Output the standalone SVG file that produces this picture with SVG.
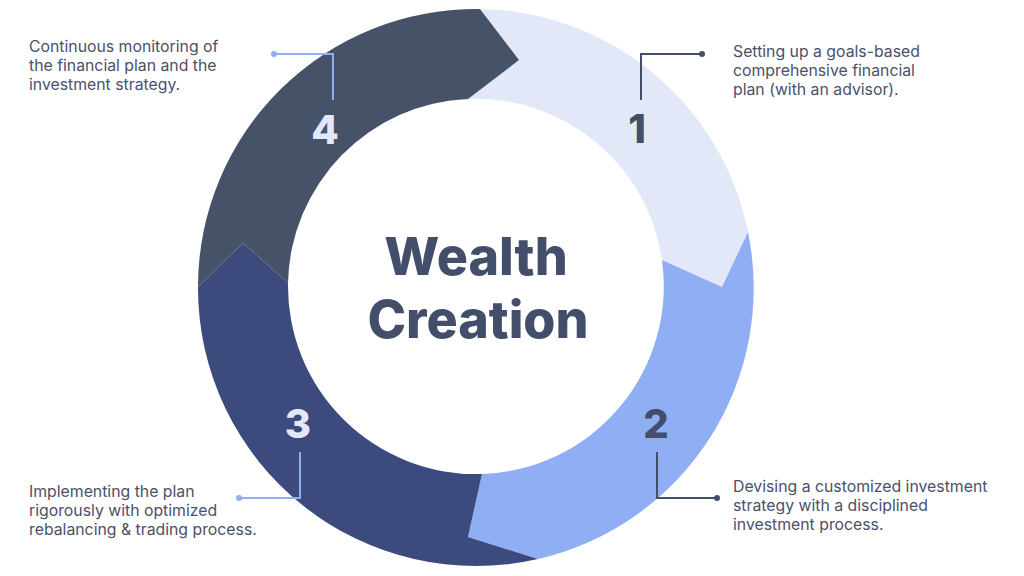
<svg xmlns="http://www.w3.org/2000/svg" width="1024" height="576" viewBox="0 0 1024 576">
<style>
.body{font-family:"Inter","Noto Sans","Liberation Sans",sans-serif;font-size:15.8px;fill:#4A5169}
.num{font-family:"Inter","Noto Sans","Liberation Sans",sans-serif;font-size:40px;font-weight:800;text-anchor:middle}
.title{font-family:"Inter","Noto Sans","Liberation Sans",sans-serif;font-size:52px;font-weight:800;fill:#434E6B;text-anchor:middle}
.cl{fill:none;stroke-width:2}
.light{stroke:#8FAEF4}
.dark{stroke:#434E6B}
</style>
<rect width="1024" height="576" fill="#FFFFFF"/>
<g id="segment-1">
<path d="M480,9 A278,278 0 0 1 748,232 L722,287 L662,260 A188,188 0 0 0 468,99 L519,60 Z" fill="#E2E8F7"/>
<text class="num" x="637" y="143" fill="#434E6B">1</text>
</g>
<g id="segment-2">
<path d="M748,232 A278,278 0 0 1 538,559 L468,537 L482,474 A188,188 0 0 0 662,260 L722,287 Z" fill="#8FAEF4"/>
<text class="num" x="656" y="438" fill="#434E6B">2</text>
</g>
<g id="segment-3">
<path d="M538,559 A278,278 0 0 1 198,287 L243,243 L288,283 A188,188 0 0 0 482,474 L468,537 Z" fill="#3C4A7E"/>
<text class="num" x="298" y="438" fill="#E2E8F7">3</text>
</g>
<g id="segment-4">
<path d="M198,287 A278,278 0 0 1 480,9 L519,60 L468,99 A188,188 0 0 0 288,283 L243,243 Z" fill="#465268"/>
<text class="num" x="325" y="144" fill="#E2E8F7">4</text>
</g>
<g id="center">
<text class="title" x="476" y="275">Wealth</text>
<text class="title" x="478" y="338">Creation</text>
</g>
<g id="connectors">
<polyline class="cl light" points="274,54 333,54 333,100"/>
<circle cx="274" cy="54" r="3" fill="#8FAEF4"/>
<polyline class="cl dark" points="702,54 641,54 641,100"/>
<circle cx="702" cy="54" r="3" fill="#434E6B"/>
<polyline class="cl light" points="300,452 300,498 239,498"/>
<circle cx="239" cy="498" r="3" fill="#8FAEF4"/>
<polyline class="cl dark" points="657,452 657,498 717,498"/>
<circle cx="717" cy="498" r="3" fill="#434E6B"/>
</g>
<g id="label-4">
<text class="body" x="29" y="52">Continuous monitoring of</text>
<text class="body" x="29" y="71">the financial plan and the</text>
<text class="body" x="29" y="90">investment strategy.</text>
</g>
<g id="label-1">
<text class="body" x="733" y="57">Setting up a goals-based</text>
<text class="body" x="733" y="76">comprehensive financial</text>
<text class="body" x="733" y="95">plan (with an advisor).</text>
</g>
<g id="label-3">
<text class="body" x="29" y="497">Implementing the plan</text>
<text class="body" x="29" y="516">rigorously with optimized</text>
<text class="body" x="29" y="535">rebalancing &amp; trading process.</text>
</g>
<g id="label-2">
<text class="body" x="733" y="492">Devising a customized investment</text>
<text class="body" x="733" y="511">strategy with a disciplined</text>
<text class="body" x="733" y="530">investment process.</text>
</g>
</svg>
